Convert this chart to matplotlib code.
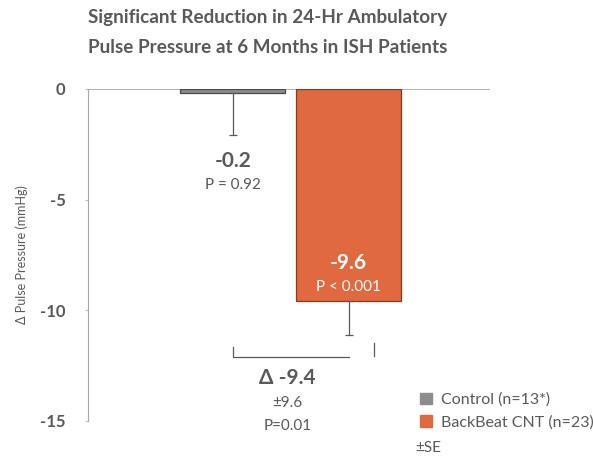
import matplotlib.pyplot as plt
from matplotlib.patches import Patch

plt.rcParams['font.family'] = ['Lato', 'DejaVu Sans']

groups = ['Control (n=13*)', 'BackBeat CNT (n=23)']
changes = [-0.2, -9.6]
se = [1.9, 1.5]
p_text = ['P = 0.92', 'P < 0.001']
colors = ['#8c8c8c', '#e0693f']
diff_text = '\u0394 -9.4'
diff_se = '\u00b19.6'
diff_p = 'P=0.01'
yticks = [0, -5, -10, -15]

txt = '#595959'
fig = plt.figure(figsize=(5.93, 4.61), dpi=100)
ax = fig.add_axes([0.148, 0.087, 0.678, 0.72])

x = [0, 1]
ax.bar(x, changes, width=0.905, color=colors, edgecolor=['#4a4a4a', '#8a3a1c'],
       linewidth=0.9, zorder=2)
# error bars only downward
ax.errorbar(x, changes, yerr=[se, [0, 0]], fmt='none', ecolor='#595959',
            elinewidth=0.9, capsize=3, capthick=0.9, zorder=3)

ax.set_xlim(-1.25, 2.216)
ax.set_ylim(-15, 0)
ax.axhline(0, color='#a6a6a6', lw=1.2, zorder=1)

for s in ['top', 'right', 'bottom']:
    ax.spines[s].set_visible(False)
ax.spines['left'].set_color('#a6a6a6')
ax.set_xticks([])
ax.set_yticks(yticks)
ax.set_yticklabels([str(v) for v in yticks], fontsize=12, fontweight='bold', color=txt)
ax.tick_params(axis='y', length=2, color='#bfbfbf', pad=14)
ax.set_ylabel('\u0394 Pulse Pressure (mmHg)', fontsize=9, color=txt, labelpad=9)

# value labels
ax.text(x[0], -3.25, f'{changes[0]}', ha='center', va='center', fontsize=15,
        fontweight='bold', color=txt)
ax.text(x[0], -4.35, p_text[0], ha='center', va='center', fontsize=11, color=txt)
ax.text(x[1], -7.85, f'{changes[1]}', ha='center', va='center', fontsize=15,
        fontweight='bold', color='white')
ax.text(x[1], -8.95, p_text[1], ha='center', va='center', fontsize=11, color='white')

# difference bracket
yb = -12.1
ax.plot([x[0], x[0], x[1]], [yb + 0.45, yb, yb], color='#595959', lw=0.9)
ax.plot([x[1] + 0.22, x[1] + 0.22], [yb + 0.6, yb + 0.05], color='#595959', lw=0.9)
xm = (x[0] + x[1]) / 2 - 0.03
ax.text(xm, -13.05, diff_text, ha='center', va='center', fontsize=15,
        fontweight='bold', color=txt)
ax.text(xm, -14.2, diff_se, ha='center', va='center', fontsize=11, color=txt)
ax.text(xm, -15.25, diff_p, ha='center', va='center', fontsize=11, color=txt,
        clip_on=False)

handles = [Patch(color=c, label=g) for c, g in zip(colors, groups)]
fig.legend(handles=handles, loc='upper left', bbox_to_anchor=(0.698, 0.162),
           frameon=False, fontsize=11.5, handlelength=0.75, handleheight=0.75,
           handletextpad=0.55, labelspacing=0.5, borderaxespad=0, labelcolor=txt)
fig.text(0.70, 0.028, '\u00b1SE', fontsize=11, color=txt, va='center')

fig.text(0.451, 0.962, 'Significant Reduction in 24-Hr Ambulatory',
         ha='center', va='center', fontsize=13.6, fontweight='bold', color=txt)
fig.text(0.451, 0.898, 'Pulse Pressure at 6 Months in ISH Patients',
         ha='center', va='center', fontsize=13.6, fontweight='bold', color=txt)

fig.savefig('out.png', dpi=100)
